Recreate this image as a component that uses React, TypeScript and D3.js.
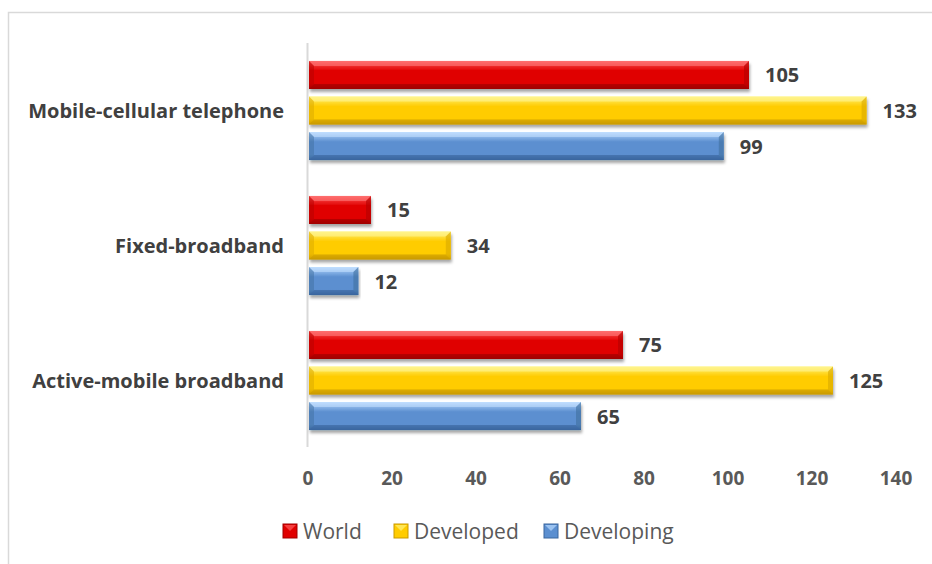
import React from "react";
import * as d3 from "d3";

const categories = ["Mobile-cellular telephone", "Fixed-broadband", "Active-mobile broadband"];
const seriesNames = ["World", "Developed", "Developing"];
const worldValues = [105, 15, 75];
const developedValues = [133, 34, 125];
const developingValues = [99, 12, 65];
const xTicks = [0, 20, 40, 60, 80, 100, 120, 140];

const palettes = [
  { light: "#ff5a5a", mid: "#e00000", dark: "#a00000", top: "#ff8080", edge: "#b30000" },
  { light: "#fff27a", mid: "#ffcc00", dark: "#c99a00", top: "#fff59a", edge: "#d9a800" },
  { light: "#b6d8ff", mid: "#5b8fd0", dark: "#3a669e", top: "#c6e2ff", edge: "#40709f" },
];

const W = 932;
const H = 564;
const FONT = "'Open Sans', 'Liberation Sans', sans-serif";

export default function App() {
  const x = d3.scaleLinear().domain([0, 140]).range([308, 896]);
  const y0 = d3.scaleBand<string>().domain(categories).range([43, 448]);
  const y1 = d3
    .scaleBand<string>()
    .domain(seriesNames)
    .range([0, y0.bandwidth()])
    .paddingInner(0.21)
    .paddingOuter(0.505);
  const seriesValues = [worldValues, developedValues, developingValues];
  const b = 5;

  return (
    <svg width={W} height={H} style={{ position: "absolute", left: 0, top: 0, background: "#fff" }}>
      <defs>
        {palettes.map((p, i) => (
          <linearGradient key={i} id={`g${i}`} x1="0" y1="0" x2="0" y2="1">
            <stop offset="0" stopColor={p.light} />
            <stop offset="0.35" stopColor={p.mid} />
            <stop offset="0.8" stopColor={p.mid} />
            <stop offset="1" stopColor={p.dark} />
          </linearGradient>
        ))}
        <filter id="shadow" x="-5%" y="-30%" width="110%" height="180%">
          <feDropShadow dx="1" dy="3" stdDeviation="1.8" floodColor="#000" floodOpacity="0.35" />
        </filter>
      </defs>
      <rect x={8.5} y={12.5} width={W + 10} height={H + 10} fill="#fff" stroke="#d9d9d9" strokeWidth={1.5} />
      <line x1={307.5} x2={307.5} y1={43} y2={447} stroke="#d9d9d9" strokeWidth={2} />
      {categories.map((c, ci) => (
        <g key={c}>
          <text
            x={284}
            y={(y0(c) as number) + y0.bandwidth() / 2}
            textAnchor="end"
            dominantBaseline="central"
            fontFamily={FONT}
            fontWeight="bold"
            fontSize={20}
            fill="#404040"
          >
            {c}
          </text>
          {seriesNames.map((s, si) => {
            const v = seriesValues[si][ci];
            const yy = (y0(c) as number) + (y1(s) as number);
            const h = y1.bandwidth();
            const x0 = x(0) + 1;
            const x1 = x(v);
            const w = x1 - x0;
            const p = palettes[si];
            return (
              <g key={s}>
                <g filter="url(#shadow)">
                  <rect x={x0} y={yy} width={w} height={h} fill={`url(#g${si})`} />
                </g>
                <polygon
                  points={`${x0},${yy} ${x1},${yy} ${x1 - b},${yy + b} ${x0 + b},${yy + b}`}
                  fill={p.top}
                  opacity={0.55}
                />
                <polygon
                  points={`${x0},${yy + h} ${x1},${yy + h} ${x1 - b},${yy + h - b} ${x0 + b},${yy + h - b}`}
                  fill={p.dark}
                  opacity={0.6}
                />
                <polygon
                  points={`${x0},${yy} ${x0 + b},${yy + b} ${x0 + b},${yy + h - b} ${x0},${yy + h}`}
                  fill={p.edge}
                  opacity={0.5}
                />
                <polygon
                  points={`${x1},${yy} ${x1 - b},${yy + b} ${x1 - b},${yy + h - b} ${x1},${yy + h}`}
                  fill={p.edge}
                  opacity={0.6}
                />
                <text
                  x={x1 + 16}
                  y={yy + h / 2}
                  dominantBaseline="central"
                  fontFamily={FONT}
                  fontWeight="bold"
                  fontSize={20}
                  fill="#404040"
                >
                  {v}
                </text>
              </g>
            );
          })}
        </g>
      ))}
      {xTicks.map((t) => (
        <text
          key={t}
          x={x(t)}
          y={478}
          textAnchor="middle"
          dominantBaseline="central"
          fontFamily={FONT}
          fontWeight="bold"
          fontSize={19}
          fill="#595959"
        >
          {t}
        </text>
      ))}
      {seriesNames.map((s, i) => {
        const lx = [283, 394, 544][i];
        const p = palettes[i];
        return (
          <g key={s}>
            <rect x={lx} y={524} width={14} height={14} fill={p.mid} stroke={p.dark} strokeWidth={1} />
            <polygon points={`${lx + 1},${525} ${lx + 13},${525} ${lx + 7},${531}`} fill={p.light} opacity={0.7} />
            <text
              x={lx + 20}
              y={531}
              dominantBaseline="central"
              fontFamily={FONT}
              fontSize={21}
              fill="#595959"
            >
              {s}
            </text>
          </g>
        );
      })}
    </svg>
  );
}
